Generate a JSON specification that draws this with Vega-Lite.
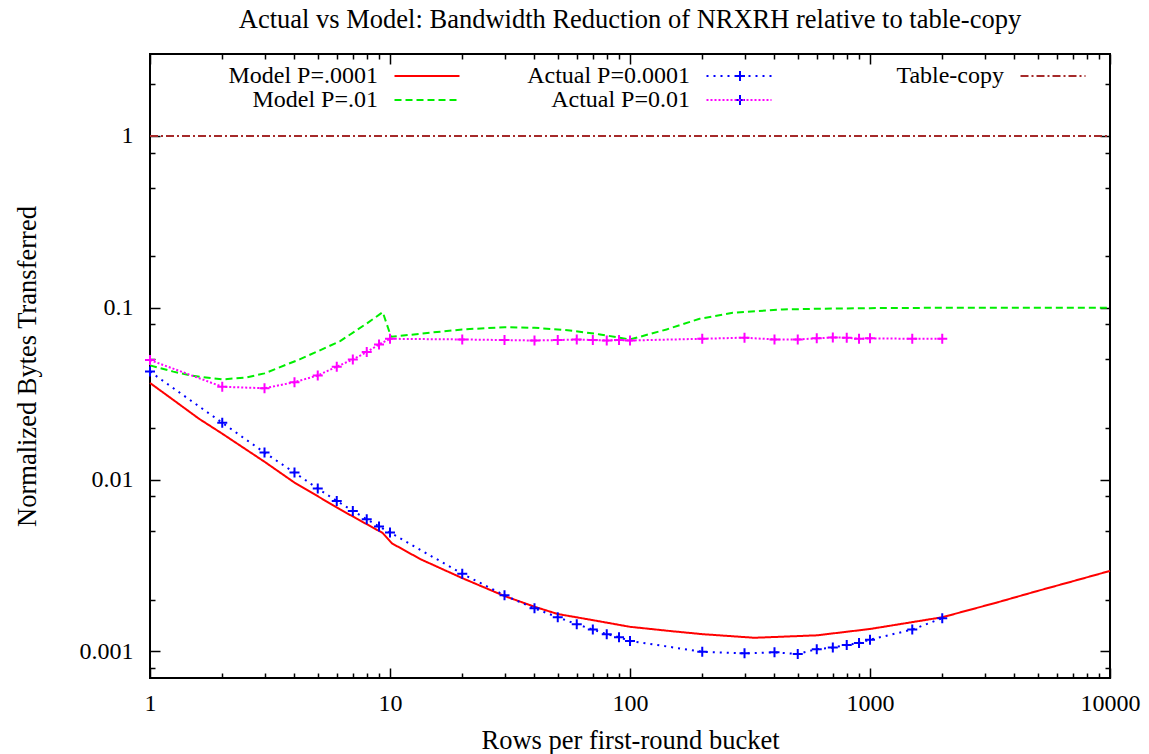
{
  "$schema": "https://vega.github.io/schema/vega-lite/v6.json",
  "autosize": "none",
  "width": 960,
  "height": 624,
  "padding": {"left": 150, "top": 54, "right": 39, "bottom": 76},
  "background": "white",
  "config": {
    "view": {"stroke": "black", "strokeWidth": 2},
    "font": "Liberation Serif"
  },
  "title": {
    "text": "Actual vs Model: Bandwidth Reduction of NRXRH relative to table-copy",
    "font": "Liberation Serif",
    "fontSize": 26.5,
    "fontWeight": "normal",
    "color": "black",
    "anchor": "middle",
    "offset": 20
  },
  "data": {
    "values": [
      {"series": "Model P=.0001", "x": 1, "y": 0.0365},
      {"series": "Model P=.0001", "x": 1.25, "y": 0.0291},
      {"series": "Model P=.0001", "x": 1.6, "y": 0.0226},
      {"series": "Model P=.0001", "x": 2, "y": 0.0185},
      {"series": "Model P=.0001", "x": 3, "y": 0.0127},
      {"series": "Model P=.0001", "x": 4, "y": 0.0096},
      {"series": "Model P=.0001", "x": 5, "y": 0.0080},
      {"series": "Model P=.0001", "x": 6.2, "y": 0.0067},
      {"series": "Model P=.0001", "x": 8, "y": 0.0055},
      {"series": "Model P=.0001", "x": 9.3, "y": 0.0049},
      {"series": "Model P=.0001", "x": 10.2, "y": 0.00425},
      {"series": "Model P=.0001", "x": 13.4, "y": 0.00344},
      {"series": "Model P=.0001", "x": 20, "y": 0.00267},
      {"series": "Model P=.0001", "x": 30, "y": 0.0021},
      {"series": "Model P=.0001", "x": 40, "y": 0.00182},
      {"series": "Model P=.0001", "x": 50, "y": 0.00165},
      {"series": "Model P=.0001", "x": 70, "y": 0.00152},
      {"series": "Model P=.0001", "x": 100, "y": 0.00139},
      {"series": "Model P=.0001", "x": 150, "y": 0.00131},
      {"series": "Model P=.0001", "x": 200, "y": 0.00126},
      {"series": "Model P=.0001", "x": 330, "y": 0.0012},
      {"series": "Model P=.0001", "x": 600, "y": 0.00124},
      {"series": "Model P=.0001", "x": 1000, "y": 0.00135},
      {"series": "Model P=.0001", "x": 2000, "y": 0.00158},
      {"series": "Model P=.0001", "x": 3400, "y": 0.00193},
      {"series": "Model P=.0001", "x": 5000, "y": 0.00225},
      {"series": "Model P=.0001", "x": 7000, "y": 0.00256},
      {"series": "Model P=.0001", "x": 10000, "y": 0.00294},
      {"series": "Model P=.01", "x": 1, "y": 0.0462},
      {"series": "Model P=.01", "x": 1.25, "y": 0.0425},
      {"series": "Model P=.01", "x": 1.5, "y": 0.0402},
      {"series": "Model P=.01", "x": 2, "y": 0.0383},
      {"series": "Model P=.01", "x": 2.5, "y": 0.0392},
      {"series": "Model P=.01", "x": 3, "y": 0.0415},
      {"series": "Model P=.01", "x": 4.2, "y": 0.0501},
      {"series": "Model P=.01", "x": 5, "y": 0.0558},
      {"series": "Model P=.01", "x": 6.2, "y": 0.064},
      {"series": "Model P=.01", "x": 8, "y": 0.081},
      {"series": "Model P=.01", "x": 9.33, "y": 0.0943},
      {"series": "Model P=.01", "x": 10.1, "y": 0.0678},
      {"series": "Model P=.01", "x": 15, "y": 0.0718},
      {"series": "Model P=.01", "x": 20, "y": 0.0748},
      {"series": "Model P=.01", "x": 30, "y": 0.0771},
      {"series": "Model P=.01", "x": 40, "y": 0.0765},
      {"series": "Model P=.01", "x": 55, "y": 0.0741},
      {"series": "Model P=.01", "x": 75, "y": 0.070},
      {"series": "Model P=.01", "x": 100, "y": 0.0654},
      {"series": "Model P=.01", "x": 142, "y": 0.0748},
      {"series": "Model P=.01", "x": 195, "y": 0.0863},
      {"series": "Model P=.01", "x": 268, "y": 0.0935},
      {"series": "Model P=.01", "x": 433, "y": 0.0978},
      {"series": "Model P=.01", "x": 700, "y": 0.099},
      {"series": "Model P=.01", "x": 1000, "y": 0.0995},
      {"series": "Model P=.01", "x": 2000, "y": 0.1},
      {"series": "Model P=.01", "x": 10000, "y": 0.1},
      {"series": "Actual P=0.0001", "x": 1, "y": 0.0425},
      {"series": "Actual P=0.0001", "x": 2, "y": 0.0214},
      {"series": "Actual P=0.0001", "x": 3, "y": 0.01436},
      {"series": "Actual P=0.0001", "x": 4, "y": 0.01098},
      {"series": "Actual P=0.0001", "x": 5, "y": 0.00887},
      {"series": "Actual P=0.0001", "x": 6, "y": 0.00751},
      {"series": "Actual P=0.0001", "x": 7, "y": 0.00657},
      {"series": "Actual P=0.0001", "x": 8, "y": 0.00588},
      {"series": "Actual P=0.0001", "x": 9, "y": 0.00533},
      {"series": "Actual P=0.0001", "x": 10, "y": 0.00492},
      {"series": "Actual P=0.0001", "x": 20, "y": 0.00283},
      {"series": "Actual P=0.0001", "x": 30, "y": 0.00212},
      {"series": "Actual P=0.0001", "x": 40, "y": 0.00178},
      {"series": "Actual P=0.0001", "x": 50, "y": 0.00158},
      {"series": "Actual P=0.0001", "x": 60, "y": 0.00144},
      {"series": "Actual P=0.0001", "x": 70, "y": 0.00134},
      {"series": "Actual P=0.0001", "x": 80, "y": 0.00126},
      {"series": "Actual P=0.0001", "x": 90, "y": 0.00121},
      {"series": "Actual P=0.0001", "x": 100, "y": 0.00115},
      {"series": "Actual P=0.0001", "x": 200, "y": 0.000995},
      {"series": "Actual P=0.0001", "x": 300, "y": 0.000974},
      {"series": "Actual P=0.0001", "x": 400, "y": 0.000987},
      {"series": "Actual P=0.0001", "x": 500, "y": 0.000965},
      {"series": "Actual P=0.0001", "x": 600, "y": 0.00103},
      {"series": "Actual P=0.0001", "x": 700, "y": 0.001054},
      {"series": "Actual P=0.0001", "x": 800, "y": 0.00109},
      {"series": "Actual P=0.0001", "x": 900, "y": 0.00112},
      {"series": "Actual P=0.0001", "x": 1000, "y": 0.00117},
      {"series": "Actual P=0.0001", "x": 1500, "y": 0.00134},
      {"series": "Actual P=0.0001", "x": 2000, "y": 0.00156},
      {"series": "Actual P=0.01", "x": 1, "y": 0.0496},
      {"series": "Actual P=0.01", "x": 2, "y": 0.0347},
      {"series": "Actual P=0.01", "x": 3, "y": 0.0340},
      {"series": "Actual P=0.01", "x": 4, "y": 0.0369},
      {"series": "Actual P=0.01", "x": 5, "y": 0.0404},
      {"series": "Actual P=0.01", "x": 6, "y": 0.0454},
      {"series": "Actual P=0.01", "x": 7, "y": 0.0500},
      {"series": "Actual P=0.01", "x": 8, "y": 0.0552},
      {"series": "Actual P=0.01", "x": 9, "y": 0.0612},
      {"series": "Actual P=0.01", "x": 10, "y": 0.0660},
      {"series": "Actual P=0.01", "x": 20, "y": 0.0654},
      {"series": "Actual P=0.01", "x": 30, "y": 0.0649},
      {"series": "Actual P=0.01", "x": 40, "y": 0.0645},
      {"series": "Actual P=0.01", "x": 50, "y": 0.0649},
      {"series": "Actual P=0.01", "x": 60, "y": 0.0653},
      {"series": "Actual P=0.01", "x": 70, "y": 0.0649},
      {"series": "Actual P=0.01", "x": 80, "y": 0.0645},
      {"series": "Actual P=0.01", "x": 90, "y": 0.0649},
      {"series": "Actual P=0.01", "x": 100, "y": 0.0645},
      {"series": "Actual P=0.01", "x": 200, "y": 0.0660},
      {"series": "Actual P=0.01", "x": 300, "y": 0.0670},
      {"series": "Actual P=0.01", "x": 400, "y": 0.0654},
      {"series": "Actual P=0.01", "x": 500, "y": 0.0654},
      {"series": "Actual P=0.01", "x": 600, "y": 0.0664},
      {"series": "Actual P=0.01", "x": 700, "y": 0.0672},
      {"series": "Actual P=0.01", "x": 800, "y": 0.0669},
      {"series": "Actual P=0.01", "x": 900, "y": 0.0660},
      {"series": "Actual P=0.01", "x": 1000, "y": 0.0664},
      {"series": "Actual P=0.01", "x": 1500, "y": 0.0660},
      {"series": "Actual P=0.01", "x": 2000, "y": 0.0660},
      {"series": "Table-copy", "x": 1, "y": 1},
      {"series": "Table-copy", "x": 10000, "y": 1}
    ]
  },
  "layer": [
    {
      "encoding": {
        "x": {
          "field": "x", "type": "quantitative",
          "scale": {"type": "log", "domain": [1, 10000], "nice": false},
          "axis": {
            "orient": "bottom",
            "values": [1,2,3,4,5,6,7,8,9,10,20,30,40,50,60,70,80,90,100,200,300,400,500,600,700,800,900,1000,2000,3000,4000,5000,6000,7000,8000,9000,10000],
            "labelExpr": "indexof([1,10,100,1000,10000], datum.value) >= 0 ? format(datum.value, '~g') : ''",
            "tickSize": {"condition": {"test": "indexof([1,10,100,1000,10000], datum.value) >= 0", "value": -10}, "value": -5},
            "tickColor": "black", "tickWidth": 1.5,
            "domain": false, "grid": false,
            "labelFont": "Liberation Serif", "labelFontSize": 24, "labelColor": "black",
            "labelPadding": 23, "labelFlush": false, "labelOverlap": false,
            "title": "Rows per first-round bucket",
            "titleFont": "Liberation Serif", "titleFontSize": 26.5, "titleFontWeight": "normal", "titleColor": "black",
            "titlePadding": 7
          }
        },
        "y": {
          "field": "y", "type": "quantitative",
          "scale": {"type": "log", "domain": [0.0007, 3], "nice": false},
          "axis": {
            "orient": "left",
            "values": [0.0008,0.001,0.002,0.005,0.008,0.01,0.02,0.05,0.08,0.1,0.2,0.5,0.8,1,2],
            "labelExpr": "indexof([0.001,0.01,0.1,1], datum.value) >= 0 ? format(datum.value, '~g') : ''",
            "tickSize": {"condition": {"test": "indexof([0.001,0.01,0.1,1], datum.value) >= 0", "value": -10}, "value": -5},
            "tickColor": "black", "tickWidth": 1.5,
            "domain": false, "grid": false,
            "labelFont": "Liberation Serif", "labelFontSize": 24, "labelColor": "black",
            "labelPadding": 27, "labelFlush": false, "labelOverlap": false,
            "title": "Normalized Bytes Transferred",
            "titleFont": "Liberation Serif", "titleFontSize": 26.5, "titleFontWeight": "normal", "titleColor": "black",
            "titlePadding": 38
          }
        }
      },
      "layer": [
        {
          "transform": [{"filter": "datum.series != 'Table-copy'"}],
          "mark": {"type": "line", "strokeWidth": 2},
          "encoding": {
            "color": {
              "field": "series", "type": "nominal",
              "scale": {
                "domain": ["Model P=.0001", "Model P=.01", "Actual P=0.0001", "Actual P=0.01"],
                "range": ["#ff0000", "#00ee00", "#0000ff", "#ff00ff"]
              },
              "legend": {
                "orient": "none", "legendX": 265, "legendY": 10,
                "columns": 2, "columnPadding": 63, "rowPadding": 0,
                "title": null,
                "symbolType": "M-6.5,0H6.5", "symbolSize": 100, "symbolStrokeWidth": 2,
                "labelFont": "Liberation Serif", "labelFontSize": 24, "labelColor": "black",
                "labelLimit": 400,
                "encode": {
                  "labels": {"update": {"x": {"value": -37}, "align": {"value": "right"}}}
                }
              }
            },
            "strokeDash": {
              "field": "series", "type": "nominal",
              "scale": {
                "domain": ["Model P=.0001", "Model P=.01", "Actual P=0.0001", "Actual P=0.01"],
                "range": [[1, 0], [7, 4], [2, 5], [2, 2]]
              },
              "legend": {
                "orient": "none", "legendX": 265, "legendY": 10,
                "columns": 2, "columnPadding": 63, "rowPadding": 0,
                "title": null,
                "symbolType": "M-6.5,0H6.5", "symbolSize": 100, "symbolStrokeWidth": 2,
                "labelFont": "Liberation Serif", "labelFontSize": 24, "labelColor": "black",
                "labelLimit": 400,
                "encode": {
                  "labels": {"update": {"x": {"value": -37}, "align": {"value": "right"}}}
                }
              }
            }
          }
        },
        {
          "transform": [{"filter": "datum.series == 'Actual P=0.0001' || datum.series == 'Actual P=0.01'"}],
          "mark": {"type": "point", "filled": false, "strokeWidth": 2, "opacity": 1, "size": 100},
          "encoding": {
            "shape": {
              "field": "series", "type": "nominal",
              "scale": {
                "domain": ["Actual P=0.0001", "Actual P=0.01"],
                "range": ["M-1,0H1M0,-1V1", "M-1,0H1M0,-1V1"]
              },
              "legend": {
                "orient": "none", "legendX": 578, "legendY": 10,
                "columns": 1, "rowPadding": 0,
                "title": null,
                "symbolSize": 100, "symbolStrokeWidth": 2,
                "labelFontSize": 24, "labelOpacity": 0,
                "encode": {
                  "symbols": {"update": {
                    "fill": {"value": "transparent"},
                    "stroke": {"signal": "datum.value == 'Actual P=0.01' ? '#ff00ff' : '#0000ff'"}
                  }}
                }
              }
            },
            "stroke": {
              "condition": {"test": "datum.series == 'Actual P=0.01'", "value": "#ff00ff"},
              "value": "#0000ff"
            }
          }
        }
      ]
    },
    {
      "transform": [{"filter": "datum.series == 'Table-copy'"}],
      "mark": {"type": "line", "strokeWidth": 2},
      "encoding": {
        "x": {
          "field": "x", "type": "quantitative",
          "scale": {"type": "log", "domain": [1, 10000], "nice": false},
          "axis": {
            "orient": "top",
            "values": [1,2,3,4,5,6,7,8,9,10,20,30,40,50,60,70,80,90,100,200,300,400,500,600,700,800,900,1000,2000,3000,4000,5000,6000,7000,8000,9000,10000],
            "labels": false,
            "tickSize": {"condition": {"test": "indexof([1,10,100,1000,10000], datum.value) >= 0", "value": -10}, "value": -5},
            "tickColor": "black", "tickWidth": 1.5,
            "domain": false, "grid": false, "title": null
          }
        },
        "y": {
          "field": "y", "type": "quantitative",
          "scale": {"type": "log", "domain": [0.0007, 3], "nice": false},
          "axis": {
            "orient": "right",
            "values": [0.0008,0.001,0.002,0.005,0.008,0.01,0.02,0.05,0.08,0.1,0.2,0.5,0.8,1,2],
            "labels": false,
            "tickSize": {"condition": {"test": "indexof([0.001,0.01,0.1,1], datum.value) >= 0", "value": -10}, "value": -5},
            "tickColor": "black", "tickWidth": 1.5,
            "domain": false, "grid": false, "title": null
          }
        },
        "color": {
          "field": "series", "type": "nominal",
          "scale": {"domain": ["Table-copy"], "range": ["#a52a2a"]},
          "legend": {
            "orient": "none", "legendX": 891, "legendY": 10,
            "title": null,
            "symbolType": "M-6.5,0H6.5", "symbolSize": 100, "symbolStrokeWidth": 2,
            "labelFont": "Liberation Serif", "labelFontSize": 24, "labelColor": "black",
            "labelLimit": 400,
            "encode": {
              "labels": {"update": {"x": {"value": -37}, "align": {"value": "right"}}}
            }
          }
        },
        "strokeDash": {
          "field": "series", "type": "nominal",
          "scale": {"domain": ["Table-copy"], "range": [[8, 3, 2, 3]]},
          "legend": {
            "orient": "none", "legendX": 891, "legendY": 10,
            "title": null,
            "symbolType": "M-6.5,0H6.5", "symbolSize": 100, "symbolStrokeWidth": 2,
            "labelFont": "Liberation Serif", "labelFontSize": 24, "labelColor": "black",
            "labelLimit": 400,
            "encode": {
              "labels": {"update": {"x": {"value": -37}, "align": {"value": "right"}}}
            }
          }
        }
      }
    }
  ],
  "resolve": {
    "scale": {"color": "independent", "strokeDash": "independent"},
    "axis": {"x": "independent", "y": "independent"}
  }
}
